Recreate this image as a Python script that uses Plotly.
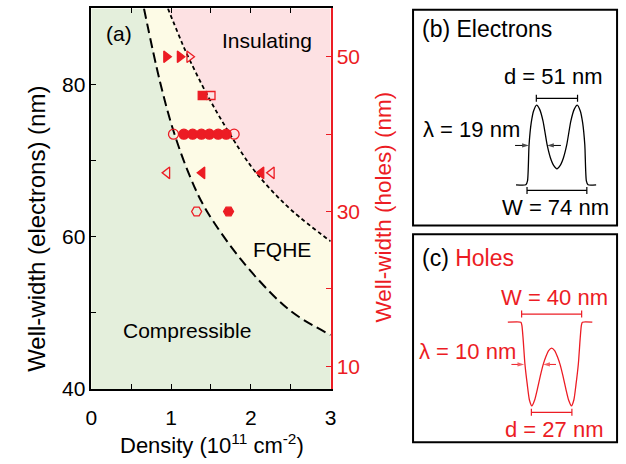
import plotly.graph_objects as go

# ---------------- data ----------------
# boundaries (density 1e11 cm^-2, well width electrons nm)
lower_n = [0.66, 0.86, 1.03, 1.23, 1.43, 1.87, 2.35, 2.60, 3.00]
lower_w = [90.0, 80.4, 73.9, 68.1, 63.7, 57.1, 51.6, 49.5, 47.1]
upper_n = [0.96, 1.10, 1.19, 1.46, 1.72, 2.00, 2.25, 2.53, 3.00]
upper_w = [90.0, 86.4, 84.2, 78.5, 73.8, 69.3, 66.2, 63.3, 59.4]

# hole samples (well width holes nm)
tri_r_fill_n, tri_r_open_n, tri_r_w = [0.94, 1.11], [1.23], 50
sq_fill_n, sq_open_n, sq_w = [1.39], [1.50], 45
circ_fill_n, circ_open_n, circ_w = [1.16, 1.27, 1.38, 1.48, 1.59, 1.69], [1.03, 1.79], 40
tri_l_fill_n, tri_l_open_n, tri_l_w = [1.39, 2.13], [0.95, 2.26], 35
hex_fill_n, hex_open_n, hex_w = [1.72], [1.32], 30

x_ticks = [0, 1, 2, 3]
x_minor = [0.5, 1.5, 2.5]
y_ticks = [40, 60, 80]
y_minor = [50, 70]
y2_ticks = [10, 30, 50]
y2_minor = [20, 40]

# wavefunction profiles (position nm, amplitude)
e_z = [-50.6, -38.5, -36.4, -34.5, -31.8, -28.8, -25.1, -21.5, -17.2, -12.1, -8.1, -3.9, 0,
       3.9, 8.1, 12.1, 17.2, 21.5, 25.1, 28.8, 31.8, 34.5, 36.4, 38.5, 48.5]
e_psi = [0, 0, 0.05, 0.5, 0.78, 0.93, 1.0, 0.95, 0.8, 0.5, 0.34, 0.24, 0.2,
         0.24, 0.34, 0.5, 0.8, 0.95, 1.0, 0.93, 0.78, 0.5, 0.05, 0, 0]
h_z = [-29.2, -20.5, -19.8, -19.0, -17.8, -16.2, -14.8, -13.2, -11.3, -9.5, -7.5, -5.6, -4.0, -2.0, 0,
       2.0, 4.0, 5.6, 7.5, 9.5, 11.3, 13.2, 14.8, 16.2, 17.8, 19.0, 19.8, 20.5, 27.1]
h_psi = [0, 0, -0.04, -0.2, -0.5, -0.75, -0.93, -1.0, -0.93, -0.8, -0.64, -0.505, -0.42, -0.34, -0.31,
         -0.34, -0.42, -0.505, -0.64, -0.8, -0.93, -1.0, -0.93, -0.75, -0.5, -0.2, -0.04, 0, 0]
e_W, e_d, e_lam = 74, 51, 19
h_W, h_d, h_lam = 40, 27, 10
e_lam_tips = [-34.8, -12.1]
h_lam_tips = [-18.3, -5.6]

# ---------------- style ----------------
RED = "#ec1c24"
GREEN = "#e4efdc"
YELLOW = "#fdfbe6"
PINK = "#fde1e3"
FONT = "Liberation Sans, Arial, sans-serif"
FW, FH = 626, 464


def px(x):
    return x / FW


def py(y):
    return 1 - y / FH


fig = go.Figure()

# regions
fig.add_trace(go.Scatter(x=[0, 0] + lower_n + [3], y=[40, 90] + lower_w + [40], fill="toself",
                         fillcolor=GREEN, mode="none", hoverinfo="skip"))
fig.add_trace(go.Scatter(x=upper_n + [3], y=upper_w + [90], fill="toself",
                         fillcolor=PINK, mode="none", hoverinfo="skip"))
# boundaries
fig.add_trace(go.Scatter(x=lower_n, y=lower_w, mode="lines",
                         line=dict(color="black", width=2, dash="10px,5px", shape="spline", smoothing=1)))
fig.add_trace(go.Scatter(x=upper_n, y=upper_w, mode="lines",
                         line=dict(color="black", width=1.8, dash="4px,3px", shape="spline", smoothing=1)))


def mk(xs, w, sym, size):
    fig.add_trace(go.Scatter(x=xs, y=[w] * len(xs), yaxis="y2", mode="markers",
                             marker=dict(symbol=sym, size=size, color=RED,
                                         line=dict(color=RED, width=1.3)),
                             cliponaxis=False))


mk(tri_r_fill_n, tri_r_w, "triangle-right", 10)
mk(tri_r_open_n, tri_r_w, "triangle-right-open", 10)
mk(sq_fill_n, sq_w, "square", 8)
mk(sq_open_n, sq_w, "square-open", 8)
mk(circ_fill_n, circ_w, "circle", 10)
mk(circ_open_n, circ_w, "circle-open", 10)
mk(tri_l_fill_n, tri_l_w, "triangle-left", 10)
mk(tri_l_open_n, tri_l_w, "triangle-left-open", 10)
mk(hex_fill_n, hex_w, "hexagon2", 10)
mk(hex_open_n, hex_w, "hexagon2-open", 10)

# ---------------- panel (b) electrons ----------------
fig.add_trace(go.Scatter(x=e_z, y=e_psi, xaxis="x3", yaxis="y3", mode="lines",
                         line=dict(color="black", width=1.3, shape="spline", smoothing=0.6)))
for xs, yv in [([-e_d / 2, e_d / 2], 1.086), ([-e_W / 2, e_W / 2], -0.07)]:
    fig.add_trace(go.Scatter(x=xs, y=[yv, yv], xaxis="x3", yaxis="y3", mode="lines+markers",
                             line=dict(color="black", width=1.2),
                             marker=dict(symbol="line-ns", size=5, line=dict(color="black", width=1.2))))
# panel (c) holes
fig.add_trace(go.Scatter(x=h_z, y=h_psi, xaxis="x4", yaxis="y4", mode="lines",
                         line=dict(color=RED, width=1.3, shape="spline", smoothing=0.6)))
for xs, yv in [([-h_W / 2, h_W / 2], 0.097), ([-h_d / 2, h_d / 2], -1.077)]:
    fig.add_trace(go.Scatter(x=xs, y=[yv, yv], xaxis="x4", yaxis="y4", mode="lines+markers",
                             line=dict(color=RED, width=1.2),
                             marker=dict(symbol="line-ns", size=5, line=dict(color=RED, width=1.2))))

# lambda arrows (tail -> tip), arrowhead drawn as oriented marker
for tip, tail, xa, ya, col, yv in [
    (e_lam_tips[0], e_lam_tips[0] - 14 / 0.824, "x3", "y3", "black", 0.494),
    (e_lam_tips[1], e_lam_tips[1] + 14 / 0.824, "x3", "y3", "black", 0.494),
    (h_lam_tips[0], h_lam_tips[0] - 13 / 1.53, "x4", "y4", RED, -0.505),
    (h_lam_tips[1], h_lam_tips[1] + 13 / 1.53, "x4", "y4", RED, -0.505),
]:
    fig.add_trace(go.Scatter(x=[tail, tip], y=[yv, yv], xaxis=xa, yaxis=ya, mode="lines+markers",
                             line=dict(color=col, width=1),
                             marker=dict(symbol="arrow", angleref="previous", size=[0, 7],
                                         color=col, line=dict(width=0))))

ann = []


def txt(x, y, s, size=21, color="black", xanchor="center", angle=0):
    ann.append(dict(x=px(x), y=py(y), xref="paper", yref="paper", text=s, showarrow=False,
                    xanchor=xanchor, yanchor="middle", textangle=angle,
                    font=dict(family=FONT, size=size, color=color)))


# main panel labels
txt(100, 34, "(a)", 21, xanchor="left")
txt(266, 41, "Insulating", 21)
txt(281, 256, "FQHE", 21)
txt(185, 339, "Compressible", 21)
txt(31, 234, "Well-width (electrons) (nm)", 24, angle=-90)
txt(385, 212, "Well-width (holes) (nm)", 22.5, color=RED, angle=-90)
txt(210, 455, "Density (10<sup>11</sup> cm<sup>-2</sup>)", 22)
# panel b
txt(422, 30, "(b) Electrons", 23, xanchor="left")
txt(558, 78, "d = %d nm" % e_d, 22)
txt(475, 133, "λ = %d nm" % e_lam, 22)
txt(560, 213, "W = %d nm" % e_W, 22)
# panel c
txt(422, 264, "(c) <span style='color:%s'>Holes</span>" % RED, 23, xanchor="left")
txt(559, 305, "W = %d nm" % h_W, 22, color=RED)
txt(471, 360, "λ = %d nm" % h_lam, 22, color=RED)
txt(559, 440, "d = %d nm" % h_d, 22, color=RED)

shapes = [
    dict(type="rect", xref="x", yref="y", x0=0, x1=3, y0=40, y1=90, fillcolor=YELLOW,
         line=dict(width=0), layer="below"),
    dict(type="rect", xref="paper", yref="paper", x0=px(415), x1=px(623), y0=py(231), y1=py(10),
         line=dict(color="black", width=2)),
    dict(type="rect", xref="paper", yref="paper", x0=px(415), x1=px(623), y0=py(453), y1=py(240),
         line=dict(color="black", width=2)),
]

main_x = [px(87), px(331)]
main_y = [py(398.5), py(8.7)]
box_x = [px(415), px(623)]
b_y = [py(231), py(10)]
c_y = [py(453), py(240)]

hidden = dict(visible=False, showgrid=False, zeroline=False, fixedrange=True)

fig.update_layout(
    width=FW, height=FH, margin=dict(l=0, r=0, t=0, b=0),
    paper_bgcolor="white", plot_bgcolor="rgba(0,0,0,0)", showlegend=False,
    font=dict(family=FONT, size=21, color="black"),
    xaxis=dict(domain=main_x, range=[0, 3], tickvals=x_ticks,
               ticks="inside", ticklen=5, tickwidth=1.2, tickcolor="black",
               minor=dict(tickvals=x_minor, ticks="inside", ticklen=5, tickwidth=1.2,
                          tickcolor="black", showgrid=False),
               showline=True, linecolor="black", linewidth=1.6, mirror="ticks",
               ticklabelstandoff=9,
               showgrid=False, zeroline=False, tickfont=dict(size=21, color="black")),
    yaxis=dict(domain=main_y, range=[40, 90], tickvals=y_ticks,
               ticks="inside", ticklen=5, tickwidth=1.2, tickcolor="black",
               minor=dict(tickvals=y_minor, ticks="inside", ticklen=5, tickwidth=1.2,
                          tickcolor="black", showgrid=False),
               showline=True, linecolor="black", linewidth=1.6,
               showgrid=False, zeroline=False, tickfont=dict(size=21, color="black")),
    yaxis2=dict(overlaying="y", side="right", anchor="x", range=[7.05, 56.25],
                tickvals=y2_ticks, ticks="inside", ticklen=5,
                tickwidth=1.2, tickcolor=RED,
                minor=dict(tickvals=y2_minor, ticks="inside", ticklen=5, tickwidth=1.2,
                           tickcolor=RED, showgrid=False),
                showline=True, linecolor=RED, linewidth=1.6,
                showgrid=False, zeroline=False, tickfont=dict(size=21, color=RED)),
    xaxis3=dict(domain=box_x, range=[(415 - 561.7) / 0.824, (623 - 561.7) / 0.824], anchor="y3", **hidden),
    yaxis3=dict(domain=b_y, range=[(189.3 - 231) / 81.6, (189.3 - 10) / 81.6], anchor="x3", **hidden),
    xaxis4=dict(domain=box_x, range=[(415 - 556.3) / 1.53, (623 - 556.3) / 1.53], anchor="y4", **hidden),
    yaxis4=dict(domain=c_y, range=[-(453 - 330) / 85.7, (330 - 240) / 85.7], anchor="x4", **hidden),
    annotations=ann,
    shapes=shapes,
)

fig.write_html("out.html")
